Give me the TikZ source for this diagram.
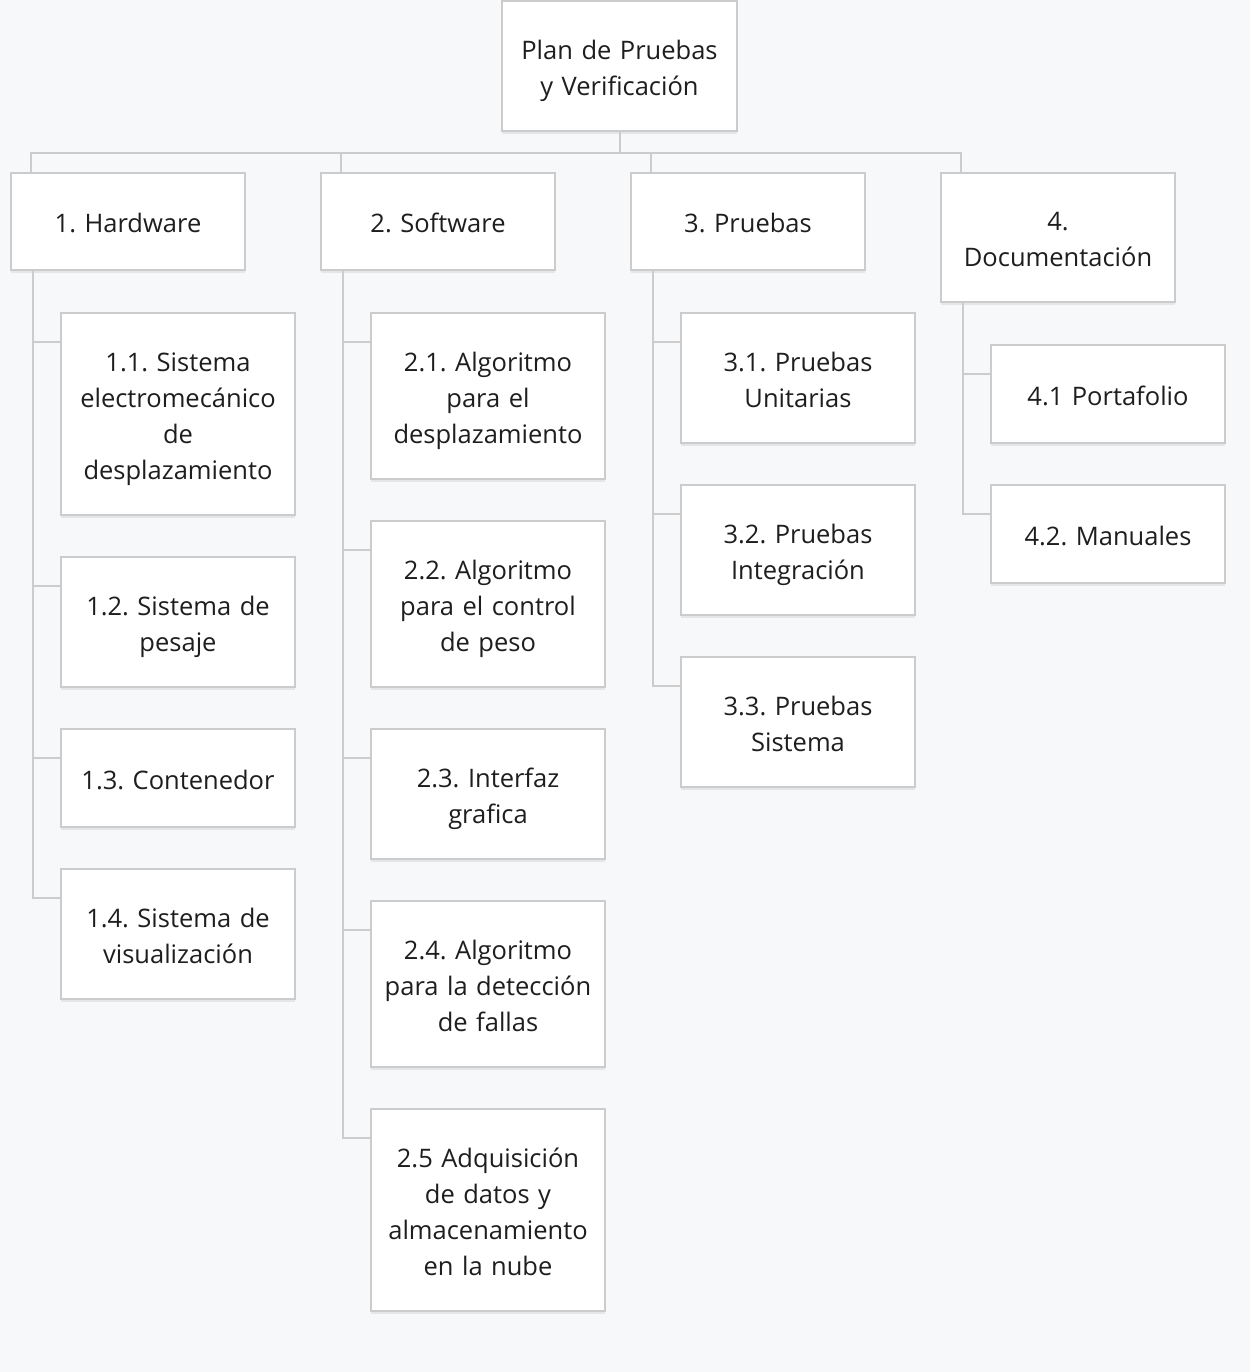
\documentclass[tikz,border=0pt]{standalone}
\usepackage{fontspec}
\setmainfont{Open Sans}
\usepackage{tikz}
\usetikzlibrary{calc,positioning,shadows}
\usepackage{xcolor}
\definecolor{paper}{HTML}{F7F8FA}
\definecolor{rule}{HTML}{CCCCCC}
\definecolor{ink}{HTML}{1E1E1E}
\frenchspacing
\newcommand\boxstrut{\rule[-6.8pt]{0pt}{35.8pt}}
\tikzset{wbsbox/.style={draw=rule,fill=white,line width=1.6pt,minimum width=234pt,minimum height=98pt,text width=214pt,align=center,inner sep=2pt,outer sep=0pt,text=ink,font=\fontsize{25.5}{36}\selectfont,execute at begin node=\boxstrut,execute at end node=\boxstrut,drop shadow={shadow xshift=0pt,shadow yshift=-3pt,opacity=.07,fill=black}},link/.style={draw=rule,line width=2pt}}

\begin{document}
\begin{tikzpicture}[x=1pt,y=-1pt]
\fill[paper] (0,0) rectangle (1250,1372);
\useasboundingbox (0,0) rectangle (1250,1372);
\node[wbsbox,minimum width=235pt,minimum height=130pt] (root) at (619.5,66) {Plan de Pruebas\\y Verificación};
\node[wbsbox,anchor=north west,minimum height=97pt] (hw) at (11,173) {1. Hardware};
\node[wbsbox,anchor=north west,minimum height=97pt] (sw) at (321,173) {2. Software};
\node[wbsbox,anchor=north west,minimum height=97pt] (pr) at (631,173) {3. Pruebas};
\node[wbsbox,anchor=north west,minimum height=129pt] (doc) at (941,173) {4.\\Documentación};
% hardware
\node[wbsbox,minimum height=202pt,below right=43pt and 50pt of hw.south west] (hw1) {1.1. Sistema\\electromecánico\\de\\desplazamiento};
\node[wbsbox,minimum height=130pt,below=42pt of hw1] (hw2) {1.2. Sistema de\\pesaje};
\node[wbsbox,below=42pt of hw2] (hw3) {1.3. Contenedor};
\node[wbsbox,minimum height=130pt,below=42pt of hw3] (hw4) {1.4. Sistema de\\visualización};
% software
\node[wbsbox,minimum height=166pt,below right=43pt and 50pt of sw.south west] (sw1) {2.1. Algoritmo\\para el\\desplazamiento};
\node[wbsbox,minimum height=166pt,below=42pt of sw1] (sw2) {2.2. Algoritmo\\para el control\\de peso};
\node[wbsbox,minimum height=130pt,below=42pt of sw2] (sw3) {2.3. Interfaz\\grafica};
\node[wbsbox,minimum height=166pt,below=42pt of sw3] (sw4) {2.4. Algoritmo\\para la detección\\de fallas};
\node[wbsbox,minimum height=202pt,below=42pt of sw4] (sw5) {2.5 Adquisición\\de datos y\\almacenamiento\\en la nube};
% pruebas
\node[wbsbox,minimum height=130pt,below right=43pt and 50pt of pr.south west] (pr1) {3.1. Pruebas\\Unitarias};
\node[wbsbox,minimum height=130pt,below=42pt of pr1] (pr2) {3.2. Pruebas\\Integración};
\node[wbsbox,minimum height=130pt,below=42pt of pr2] (pr3) {3.3. Pruebas\\Sistema};
% documentacion
\node[wbsbox,below right=43pt and 50pt of doc.south west] (doc1) {4.1 Portafolio};
\node[wbsbox,below=42pt of doc1] (doc2) {4.2. Manuales};
% connectors
\coordinate (bus) at ($(root.south)+(0,22)$);
\draw[link] (root.south) -- (bus);
\foreach \top in {hw,sw,pr,doc}
  \draw[link] (bus) -| ($(\top.north west)+(20,0)$);
\foreach \top/\subs in {hw/{hw1,hw2,hw3,hw4},sw/{sw1,sw2,sw3,sw4,sw5},pr/{pr1,pr2,pr3},doc/{doc1,doc2}}
  \foreach \sub in \subs
    \draw[link] ($(\top.south west)+(22,0)$) |- ($(\sub.north west)+(0,29)$);
\end{tikzpicture}
\end{document}
